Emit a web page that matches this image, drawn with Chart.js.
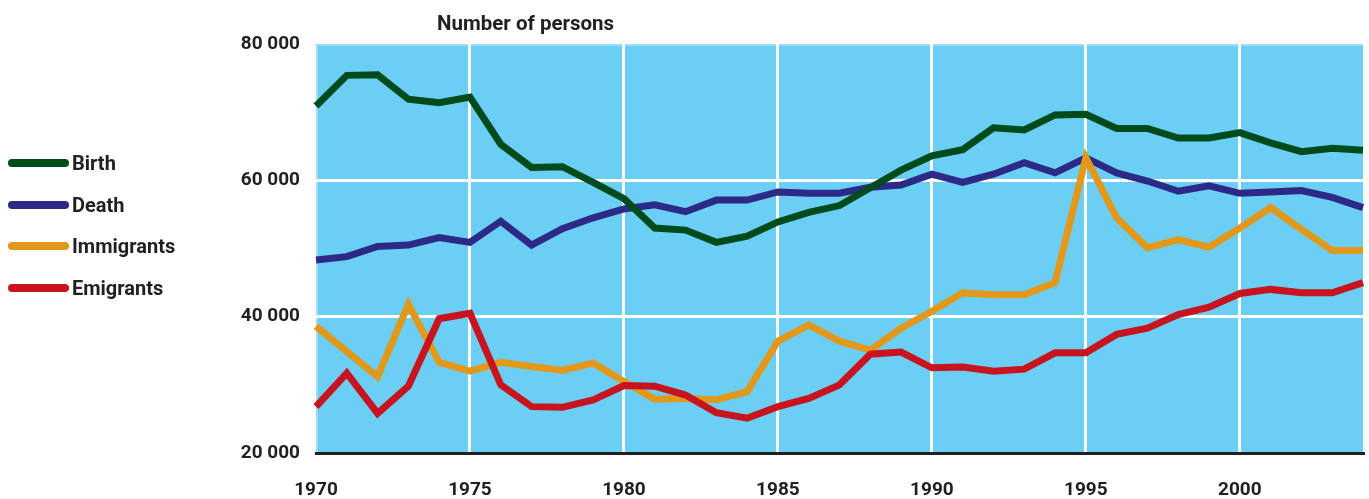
<!DOCTYPE html>
<html>
<head>
<meta charset="utf-8">
<script src="https://cdn.jsdelivr.net/npm/chart.js@4/dist/chart.umd.min.js"></script>
<style>
  body { margin: 0; background: #fff; }
  #wrap { position: absolute; left: 0; top: 0; width: 1369px; height: 499px; }
  .legend { position: absolute; left: 8px; font: bold 20px Roboto, "Liberation Sans", sans-serif; color: #231f20; }
  .legend div { position: absolute; left: 0; height: 24px; white-space: nowrap; }
  .legend span.sw { position: absolute; left: 0; top: 8px; width: 61px; height: 8px; border-radius: 4px; }
  .legend span.tx { position: absolute; left: 64px; top: 0; line-height: 24px; }
  #titulo { position: absolute; left: 437px; top: 11px; font: bold 20.5px Roboto, "Liberation Sans", sans-serif; color: #231f20; }
</style>
</head>
<body>
<div id="wrap">
  <canvas id="grafico"></canvas>
</div>
<div id="titulo">Number of persons</div>
<div class="legend" id="leyenda"></div>

<script>
const years = [];
for (let y = 1970; y <= 2004; y++) years.push(String(y));

const birth = [70.9, 75.4, 75.5, 71.9, 71.4, 72.2, 65.3, 61.9, 62.0, 59.7, 57.3, 53.0, 52.7, 50.9, 51.8, 53.9, 55.3, 56.3, 58.9, 61.5, 63.6, 64.5, 67.7, 67.4, 69.6, 69.7, 67.6, 67.6, 66.2, 66.2, 67.0, 65.5, 64.2, 64.7, 64.4];
const death = [48.3, 48.8, 50.3, 50.5, 51.6, 50.9, 54.0, 50.5, 52.9, 54.5, 55.8, 56.4, 55.4, 57.1, 57.1, 58.3, 58.1, 58.1, 59.0, 59.3, 60.9, 59.7, 60.9, 62.6, 61.1, 63.3, 61.1, 59.9, 58.4, 59.2, 58.1, 58.3, 58.5, 57.5, 56.0];
const immigrants = [38.6, 34.9, 31.2, 41.8, 33.3, 32.0, 33.3, 32.7, 32.1, 33.2, 30.5, 27.9, 28.0, 27.8, 29.0, 36.4, 38.8, 36.4, 35.1, 38.3, 40.8, 43.5, 43.2, 43.2, 45.0, 63.3, 54.5, 50.1, 51.3, 50.2, 53.0, 56.0, 52.8, 49.7, 49.7];
const emigrants = [26.8, 31.7, 25.8, 29.8, 39.7, 40.5, 30.0, 26.8, 26.7, 27.8, 29.9, 29.8, 28.5, 25.9, 25.1, 26.8, 28.0, 30.0, 34.5, 34.8, 32.5, 32.6, 32.0, 32.3, 34.7, 34.7, 37.4, 38.3, 40.3, 41.4, 43.4, 44.0, 43.5, 43.5, 45.0];

const yTicks = [20000, 40000, 60000, 80000];
const xTickYears = ["1970", "1975", "1980", "1985", "1990", "1995", "2000"];

const series = [
  { nombre: "Birth", datos: birth, color: "#004b1c", orden: 0 },
  { nombre: "Death", datos: death, color: "#2d2a87", orden: 3 },
  { nombre: "Immigrants", datos: immigrants, color: "#e2981a", orden: 2 },
  { nombre: "Emigrants", datos: emigrants, color: "#c8141e", orden: 1 },
];

const fuente = "Roboto, 'Liberation Sans', sans-serif";
const tinta = "#231f20";

// leyenda a la izquierda
const leyendaTops = [151, 193, 234, 276];
const leyenda = document.getElementById("leyenda");
series.forEach((s, i) => {
  const d = document.createElement("div");
  d.style.top = leyendaTops[i] + "px";
  d.innerHTML = '<span class="sw" style="background:' + s.color + '"></span><span class="tx">' + s.nombre + "</span>";
  leyenda.appendChild(d);
});

const fondoArea = {
  id: "fondoArea",
  beforeDraw(chart) {
    const { ctx, chartArea: a } = chart;
    ctx.save();
    ctx.fillStyle = "#6bcff5";
    ctx.fillRect(a.left, a.top, a.right - a.left, a.bottom - a.top);
    ctx.strokeStyle = "#9adcf6";
    ctx.lineWidth = 2;
    ctx.beginPath();
    ctx.moveTo(a.left + 1, a.bottom);
    ctx.lineTo(a.left + 1, a.top + 1);
    ctx.lineTo(a.right, a.top + 1);
    ctx.stroke();
    ctx.restore();
  },
};

new Chart(document.getElementById("grafico"), {
  type: "line",
  data: {
    labels: years,
    datasets: series.map((s) => ({
      label: s.nombre,
      data: s.datos.map((v) => v * 1000),
      borderColor: s.color,
      backgroundColor: s.color,
      borderWidth: 7,
      pointRadius: 0,
      tension: 0,
      fill: false,
      order: s.orden,
      borderJoinStyle: "miter",
    })),
  },
  options: {
    responsive: true,
    maintainAspectRatio: false,
    animation: false,
    layout: { padding: { top: 44, right: 6, left: 0, bottom: 0 } },
    plugins: { legend: { display: false }, tooltip: { enabled: false } },
    scales: {
      x: {
        offset: false,
        border: { display: true, color: tinta, width: 3 },
        grid: {
          drawTicks: false,
          lineWidth: 3,
          color: (c) => (c.index > 0 && c.index < years.length - 1 && xTickYears.includes(years[c.index]) ? "#ffffff" : "rgba(0,0,0,0)"),
        },
        ticks: {
          autoSkip: false,
          maxRotation: 0,
          padding: 26,
          color: tinta,
          font: { family: fuente, size: 19, weight: "bold" },
          callback: (v, i) => (xTickYears.includes(years[i]) ? years[i] : ""),
        },
        afterFit: (sc) => { sc.height = 46; sc.paddingRight = 0; sc.paddingLeft = 0; },
      },
      y: {
        min: 20000,
        max: 80000,
        border: { display: false },
        grid: {
          drawTicks: false,
          lineWidth: 3,
          color: (c) => (c.tick && (c.tick.value === 40000 || c.tick.value === 60000) ? "#ffffff" : "rgba(0,0,0,0)"),
        },
        afterBuildTicks: (sc) => { sc.ticks = yTicks.map((v) => ({ value: v })); },
        ticks: {
          padding: 16,
          color: tinta,
          font: { family: fuente, size: 19, weight: "bold" },
          callback: (v) => String(v / 1000) + " 000",
        },
        afterFit: (sc) => { sc.width = 316; sc.paddingTop = 0; sc.paddingBottom = 0; },
      },
    },
  },
  plugins: [fondoArea],
});
</script>
</body>
</html>
